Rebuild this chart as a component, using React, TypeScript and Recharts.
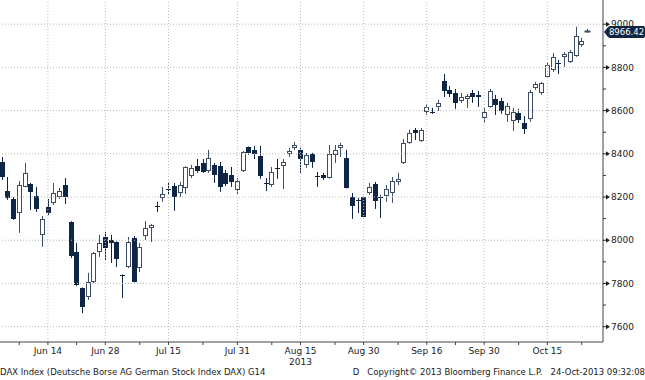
import React from "react";
import { ComposedChart, Bar, XAxis, YAxis, ReferenceLine } from "recharts";

// daily DAX candles, Jun 4 .. Oct 24 2013 (index = trading day)
const opens = [
  8363, 8228, 8191, 8126, 8247, 8261, 8205, 8024, 8154, 8173, 8201, 8256, 8085, 7946, 7779, 7737, 7807,
  7946, 8015, 8001, 7992, 7839, 7876, 8011, 7872, 8020, 8057, 8160, 8196, 8238, 8251, 8219, 8242, 8298,
  8344, 8358, 8321, 8349, 8344, 8312, 8302, 8233, 8321, 8432, 8418, 8390, 8266, 8256, 8336, 8344, 8400,
  8427, 8418, 8349, 8400, 8299, 8302, 8288, 8395, 8427, 8381, 8200, 8188, 8200, 8219, 8261, 8202, 8205,
  8219, 8270, 8358, 8450, 8511, 8460, 8594, 8595, 8617, 8737, 8696, 8682, 8645, 8654, 8682, 8673, 8566,
  8617, 8654, 8645, 8580, 8552, 8589, 8543, 8562, 8705, 8682, 8756, 8788, 8822, 8849, 8825, 8853, 8904,
  8966,
];
const highs = [
  8386, 8293, 8200, 8274, 8358, 8265, 8247, 8112, 8191, 8265, 8242, 8288, 8088, 7987, 7782, 7849, 7946,
  8025, 8038, 8025, 7995, 7842, 8015, 8020, 7987, 8089, 8075, 8178, 8247, 8270, 8265, 8270, 8342, 8349,
  8376, 8376, 8418, 8358, 8362, 8325, 8339, 8288, 8413, 8434, 8437, 8437, 8288, 8339, 8376, 8376, 8428,
  8455, 8428, 8404, 8404, 8316, 8312, 8441, 8441, 8451, 8418, 8219, 8196, 8202, 8265, 8270, 8210, 8256,
  8293, 8312, 8469, 8511, 8520, 8520, 8631, 8613, 8650, 8770, 8714, 8700, 8682, 8677, 8696, 8691, 8613,
  8700, 8673, 8659, 8636, 8613, 8608, 8575, 8696, 8733, 8733, 8825, 8867, 8835, 8872, 8881, 8988, 8937,
  8978,
];
const lows = [
  8279, 8187, 8094, 8034, 8245, 8140, 8131, 7969, 8117, 8163, 8191, 8168, 7918, 7789, 7663, 7724, 7802,
  7923, 7909, 7895, 7876, 7733, 7871, 7805, 7853, 8001, 7992, 8131, 8178, 8210, 8136, 8201, 8214, 8288,
  8312, 8312, 8312, 8265, 8224, 8251, 8247, 8214, 8316, 8395, 8376, 8284, 8228, 8247, 8284, 8237, 8386,
  8418, 8312, 8335, 8335, 8247, 8279, 8286, 8358, 8386, 8240, 8099, 8126, 8108, 8210, 8145, 8103, 8178,
  8173, 8256, 8353, 8446, 8464, 8455, 8580, 8585, 8599, 8663, 8663, 8608, 8636, 8613, 8636, 8617, 8543,
  8613, 8580, 8585, 8548, 8506, 8543, 8492, 8548, 8696, 8673, 8751, 8779, 8770, 8802, 8821, 8849, 8895,
  8960,
];
const closes = [
  8293, 8196, 8098, 8256, 8312, 8224, 8145, 8099, 8126, 8219, 8228, 8201, 7927, 7793, 7691, 7807, 7941,
  7987, 7964, 7987, 7913, 7837, 7992, 7807, 7969, 8057, 8071, 8158, 8214, 8236, 8201, 8256, 8339, 8335,
  8321, 8316, 8381, 8302, 8247, 8261, 8270, 8274, 8409, 8404, 8400, 8298, 8264, 8316, 8334, 8362, 8413,
  8441, 8376, 8395, 8362, 8297, 8288, 8400, 8418, 8441, 8242, 8159, 8186, 8108, 8247, 8182, 8200, 8237,
  8274, 8284, 8450, 8497, 8497, 8511, 8617, 8593, 8636, 8691, 8677, 8636, 8664, 8668, 8664, 8664, 8594,
  8691, 8627, 8599, 8622, 8594, 8557, 8515, 8687, 8724, 8728, 8812, 8849, 8820, 8862, 8872, 8946, 8923,
  8966.42,
];

const tickDays = [8, 18, 29, 41, 52, 63, 74, 84, 95];
const tickLabels = ["Jun 14", "Jun 28", "Jul 15", "Jul 31", "Aug 15", "Aug 30", "Sep 16", "Sep 30", "Oct 15"];
const minorDays = [3, 13, 24, 35, 47, 58, 69, 79, 90, 101];
const priceTicks = [7600, 7800, 8000, 8200, 8400, 8600, 8800, 9000];
const minorPriceTicks = [7700, 7900, 8100, 8300, 8500, 8700, 8900];
const lastPrice = 8966.42;

const data = opens.map((o, i) => ({
  day: i,
  open: o,
  high: highs[i],
  low: lows[i],
  close: closes[i],
  range: [lows[i], highs[i]],
}));

const NAVY = "#0f2545";
const FONT = "'DejaVu Sans', Tahoma, sans-serif";
const GRID = "#b9b9b9";

function Candle(props: any) {
  const { x, y, width, height, payload } = props;
  const { open, close, high, low } = payload;
  const h = Math.abs(height);
  const top = height < 0 ? y + height : y;
  const k = high > low ? h / (high - low) : 0;
  const py = (v: number) => top + (high - v) * k;
  const cx = Math.round(x + width / 2) + 0.5;
  const up = close >= open;
  const bTop = Math.round(py(Math.max(open, close)));
  const bBot = Math.round(py(Math.min(open, close)));
  const bh = Math.max(1, bBot - bTop);
  const bw = 4;
  return (
    <g>
      <line x1={cx} x2={cx} y1={top} y2={top + h} stroke={up ? "#3f4f66" : NAVY} strokeWidth={1} />
      {up && bh > 2 ? (
        <rect x={cx - bw / 2} y={bTop + 0.5} width={bw} height={bh - 1} fill="#fff" stroke="#3b4c63" strokeWidth={1} />
      ) : (
        <rect x={cx - bw / 2 - 0.5} y={bTop} width={bw + 1} height={bh} fill={up && bh > 1 ? "#fff" : NAVY} stroke={up ? "#3b4c63" : "none"} />
      )}
    </g>
  );
}

function DateTick(props: any) {
  const { x, y, payload } = props;
  const idx = tickDays.indexOf(payload.value);
  return (
    <g>
      <line x1={x} x2={x} y1={y} y2={y + 3} stroke="#444" />
      {idx >= 0 && (
        <text x={x} y={y + 12} textAnchor="middle" fontSize={9} fontFamily={FONT} fill="#222">
          {tickLabels[idx]}
        </text>
      )}
      {idx >= 0 && tickLabels[idx] === "Aug 15" && (
        <text x={x} y={y + 23} textAnchor="middle" fontSize={9} fontFamily={FONT} fill="#222">
          2013
        </text>
      )}
    </g>
  );
}

function PriceTick(props: any) {
  const { x, y, payload } = props;
  const major = priceTicks.includes(payload.value);
  if (!major) {
    return <line x1={x} x2={x + 3} y1={y} y2={y} stroke="#333" />;
  }
  return (
    <g>
      <line x1={x} x2={x + 4} y1={y} y2={y} stroke="#222" />
      <polygon points={`${x + 3},${y - 2.5} ${x + 7},${y} ${x + 3},${y + 2.5}`} fill="#222" />
      <text x={x + 8} y={y} dy="0.35em" fontSize={9} fontFamily={FONT} fill="#222">
        {payload.value}
      </text>
    </g>
  );
}

function PriceTag(props: any) {
  const { viewBox } = props;
  const x = viewBox.x + viewBox.width;
  const y = viewBox.y + 0.5;
  return (
    <g>
      <polygon points={`${x + 1},${y} ${x + 5},${y - 5} ${x + 5},${y + 5}`} fill={NAVY} />
      <rect x={x + 5} y={y - 6} width={37} height={12} rx={2} fill={NAVY} />
      <text x={x + 23.5} y={y} dy="0.35em" textAnchor="middle" fontSize={8.5} fontFamily={FONT} fill="#fff">
        {lastPrice.toFixed(2)}
      </text>
    </g>
  );
}

export default function App() {
  return (
    <div style={{ position: "absolute", left: 0, top: 0, width: 645, height: 380, background: "#fff" }}>
      <ComposedChart
        width={645}
        height={380}
        data={data}
        margin={{ top: 0, right: 0, bottom: 16, left: 0 }}
      >
        {tickDays.map((d) => (
          <ReferenceLine key={"v" + d} x={d} stroke={GRID} strokeDasharray="1 2" />
        ))}
        {priceTicks.map((p) => (
          <ReferenceLine key={"h" + p} y={p} stroke={GRID} strokeDasharray="1 2" />
        ))}
        <XAxis
          dataKey="day"
          type="number"
          domain={[-0.348, 104.7]}
          allowDataOverflow
          ticks={[...tickDays, ...minorDays].sort((a, b) => a - b)}
          interval={0}
          height={22}
          tickSize={0}
          tickMargin={0}
          tickLine={false}
          axisLine={{ stroke: "#444" }}
          tick={<DateTick />}
        />
        <YAxis
          orientation="right"
          type="number"
          domain={[7529, 9112]}
          allowDataOverflow
          ticks={[...priceTicks, ...minorPriceTicks].sort((a, b) => a - b)}
          interval={0}
          width={42}
          tickSize={0}
          tickMargin={0}
          tickLine={false}
          axisLine={{ stroke: "#444" }}
          tick={<PriceTick />}
        />
        <Bar dataKey="range" barSize={5} shape={<Candle />} isAnimationActive={false} />
        <ReferenceLine y={lastPrice} stroke="none" label={<PriceTag />} />
      </ComposedChart>
      <div
        style={{
          position: "absolute",
          left: 0,
          top: 367,
          fontSize: 8.5,
          fontFamily: FONT,
          color: "#222",
          whiteSpace: "nowrap",
        }}
      >
        DAX Index (Deutsche Borse AG German Stock Index DAX) G14
      </div>
      <div
        style={{
          position: "absolute",
          right: 0,
          top: 367,
          fontSize: 8.5,
          fontFamily: FONT,
          color: "#222",
          whiteSpace: "pre",
        }}
      >
        {"D   Copyright© 2013 Bloomberg Finance L.P.   24-Oct-2013 09:32:08"}
      </div>
    </div>
  );
}
